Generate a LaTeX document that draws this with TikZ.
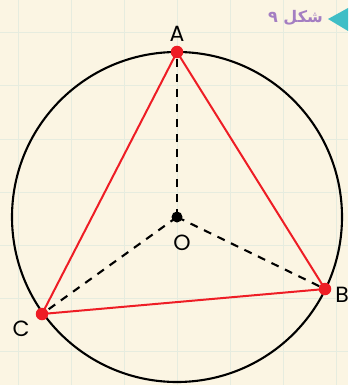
\documentclass[tikz,border=0pt]{standalone}
\usepackage{fontspec}
\setmainfont{Poppins}
\newfontfamily\arabicfont[Script=Arabic]{DejaVu Sans}
\TeXXeTstate=1
\usetikzlibrary{arrows.meta,positioning}
\definecolor{paper}{HTML}{FBF5E3}
\definecolor{gridc}{HTML}{E6ECDF}
\definecolor{edgered}{HTML}{EE1D25}
\definecolor{tagcyan}{HTML}{3FBEC6}
\definecolor{tagpurple}{HTML}{A47EC2}
\begin{document}
\begin{tikzpicture}[x=1pt,y=-1pt,
  radial/.style={black,line width=2.1pt,dash pattern=on 8pt off 7pt},
  side/.style={edgered,line width=2pt},
  vdot/.style={circle,fill=edgered,inner sep=0pt,minimum size=12.5pt},
  vlabel/.style={font=\fontsize{22}{22}\selectfont,inner sep=1pt}]
\fill[paper] (0,0) rectangle (348,385);
\useasboundingbox (0,0) rectangle (348,385);
\foreach \gx in {18,71,124,177,230,283,336} \draw[gridc,line width=1pt] (\gx,0)--(\gx,385);
\foreach \gy in {33,86,139,192,245,298,351} \draw[gridc,line width=1pt] (0,\gy)--(348,\gy);
% figure tag
\fill[tagcyan] (328,19)--(348,8)--(348,31)--cycle;
\node[anchor=east,text=tagpurple,font=\arabicfont\bfseries\fontsize{16}{16}\selectfont,inner sep=0pt] (tag) at (323,18) {\beginR شکل ۹\endR};
% circle and points
\coordinate (O) at (177,217);
\draw[black,line width=2.1pt] (O) circle[radius=165pt];
\coordinate (A) at (177,52);
\coordinate (B) at (325,289);
\coordinate (C) at (42,314);
\draw[radial] (O)--(A);
\draw[radial] (O)--(B);
\draw[radial] (O)--(C);
\draw[side] (A)--(B)--(C)--cycle;
\node[vdot] (dA) at (A) {};
\node[vdot] (dB) at (B) {};
\node[vdot] (dC) at (C) {};
\node[circle,fill=black,inner sep=0pt,minimum size=11pt] (dO) at (O) {};
\node[vlabel] (lA) at (177,34) {A};
\node[vlabel] (lB) at (342,295) {B};
\node[vlabel] (lC) at (21,329) {C};
\node[vlabel] (lO) at (182,243) {O};
\end{tikzpicture}
\end{document}
